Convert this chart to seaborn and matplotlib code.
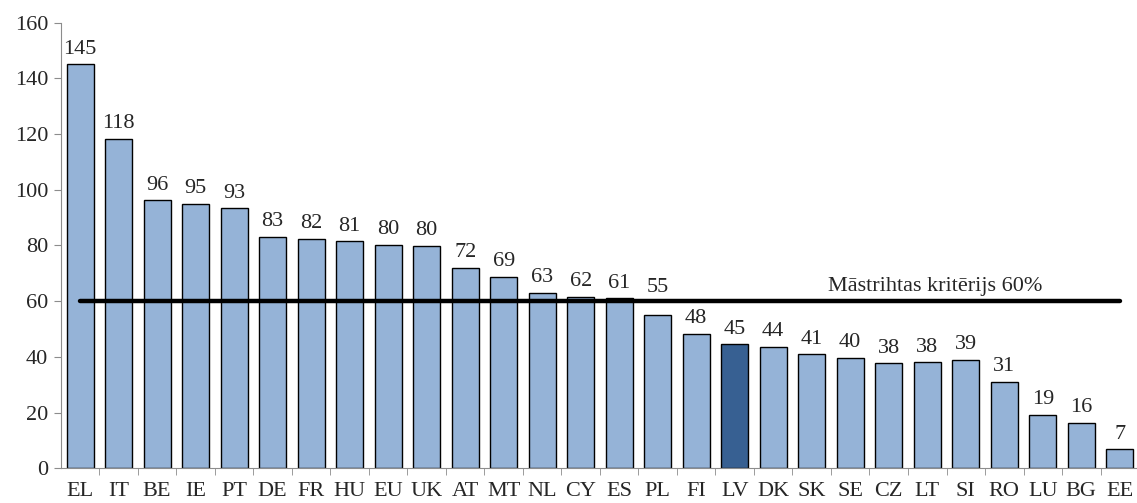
import matplotlib
matplotlib.use('Agg')
import matplotlib.pyplot as plt
import seaborn as sns
import pandas as pd

sns.set_style('white')
plt.rcParams['font.family'] = ['Liberation Serif', 'DejaVu Serif']

countries = ['EL', 'IT', 'BE', 'IE', 'PT', 'DE', 'FR', 'HU', 'EU', 'UK',
             'AT', 'MT', 'NL', 'CY', 'ES', 'PL', 'FI', 'LV', 'DK', 'SK',
             'SE', 'CZ', 'LT', 'SI', 'RO', 'LU', 'BG', 'EE']
debt = [145.0, 118.4, 96.2, 95.0, 93.3, 83.1, 82.4, 81.5, 80.2, 79.9,
        71.9, 68.8, 63.0, 61.5, 61.0, 54.9, 48.2, 44.6, 43.7, 41.0,
        39.7, 37.7, 38.0, 38.9, 31.1, 19.2, 16.4, 6.8]
labels = ['145', '118', '96', '95', '93', '83', '82', '81', '80', '80',
          '72', '69', '63', '62', '61', '55', '48', '45', '44', '41',
          '40', '38', '38', '39', '31', '19', '16', '7']
highlight = 'LV'
criterion = 60
criterion_text = 'Māstrihtas kritērijs 60%'

df = pd.DataFrame({'country': countries, 'debt': debt})
palette = {c: ('#376092' if c == highlight else '#95B3D7') for c in countries}

fig = plt.figure(figsize=(11.37, 5.03), dpi=100)
ax = fig.add_axes([0.0535, 0.069, 0.95, 0.886])

sns.barplot(data=df, x='country', y='debt', hue='country', palette=palette,
            legend=False, width=0.7, edgecolor='black', linewidth=1.0,
            saturation=1, ax=ax)

# PL label is lifted above the criterion line, as in the original
for cont, lab, c in zip(ax.containers, labels, countries):
    pad = 13 if c == 'PL' else 4
    ax.bar_label(cont, labels=[lab], padding=pad, fontsize=16)

ax.plot([0, len(countries) - 1], [criterion, criterion], color='black', lw=3.2,
        solid_capstyle='round')
ax.text(25.0, criterion + 2.0, criterion_text, ha='right', va='bottom', fontsize=16)

ax.set_ylim(0, 160)
ax.set_xlim(-0.5, len(countries) - 0.45)
ax.set_yticks(range(0, 161, 20))
ax.set_xlabel('')
ax.set_ylabel('')

ax.spines['top'].set_visible(False)
ax.spines['right'].set_visible(False)
ax.spines['left'].set_color('#8c8c8c')
ax.spines['bottom'].set_color('#8c8c8c')

ax.tick_params(axis='y', length=5, color='#8c8c8c', labelsize=16, pad=4, direction='out', left=True)
ax.tick_params(axis='x', length=0, labelsize=16, pad=10)
ax.set_xticks([i + 0.5 for i in range(len(countries))], minor=True)
ax.tick_params(axis='x', which='minor', length=5, color='#8c8c8c', direction='out', bottom=True)

fig.savefig('out.png', dpi=100)
